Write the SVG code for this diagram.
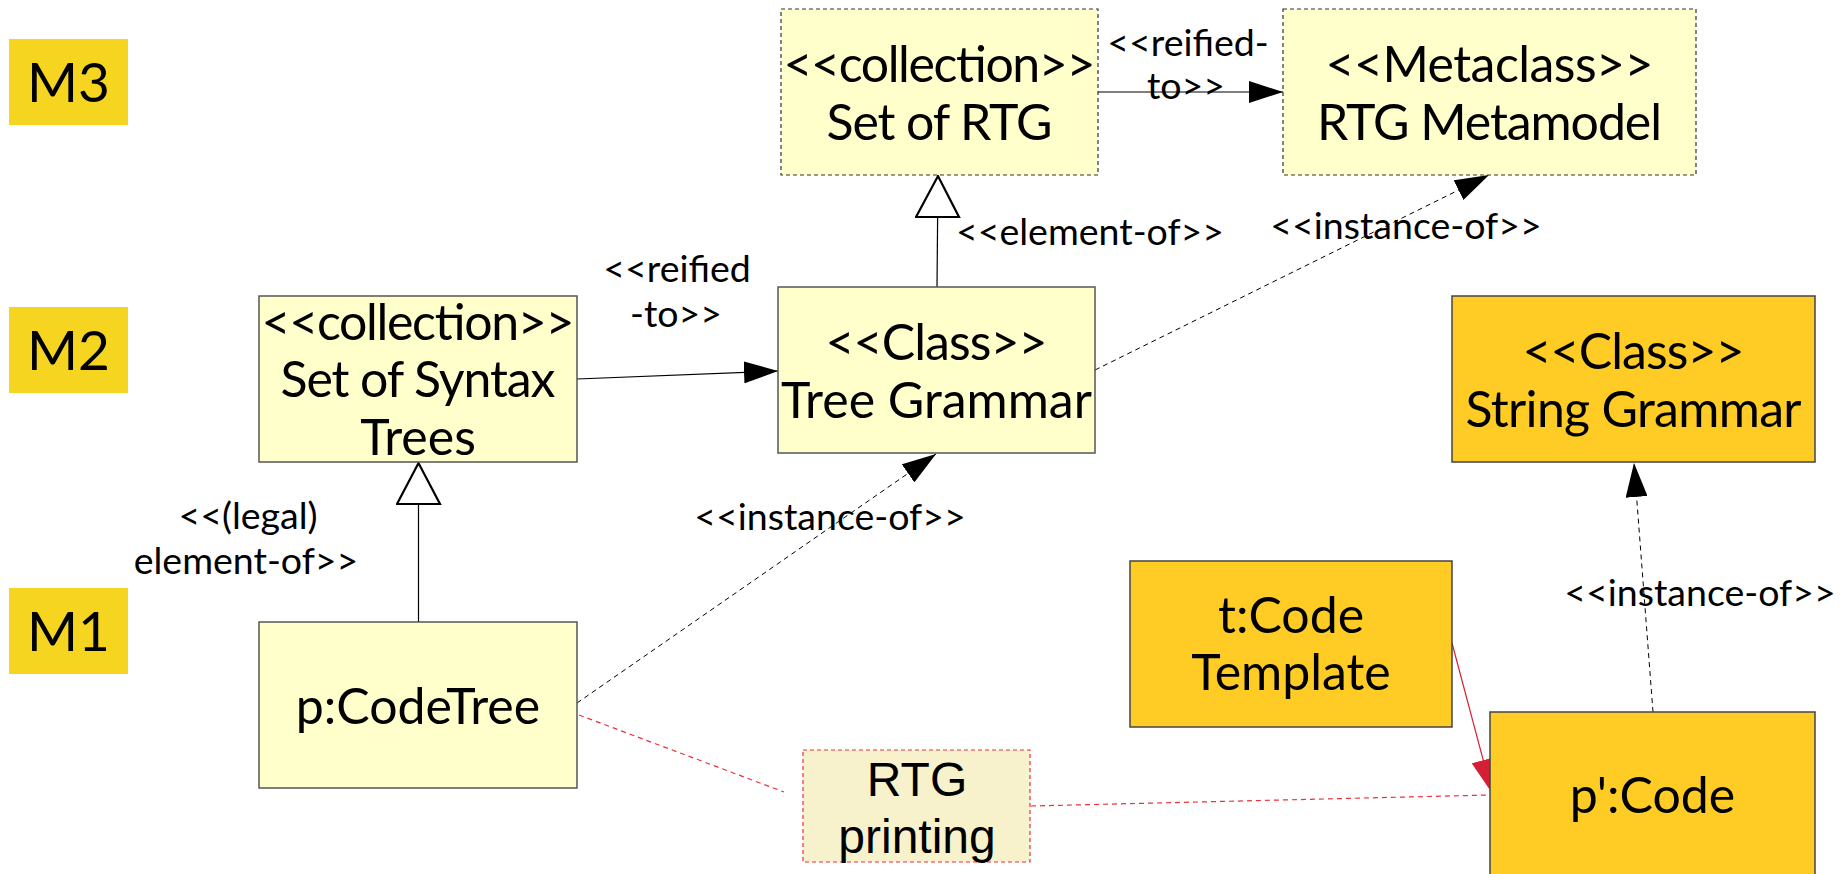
<svg xmlns="http://www.w3.org/2000/svg" width="1845" height="874" viewBox="0 0 1845 874">
<defs>
<style>
.lvl{fill:#f6d520}
.lvlt{font-family:Lato,"Noto Sans",sans-serif;font-size:55px;fill:#000;text-anchor:middle}
.box{fill:#ffffcc;stroke:#555;stroke-width:1.5}
.dbox{fill:#ffffcc;stroke:#333;stroke-width:1.2;stroke-dasharray:4 3}
.obox{fill:#ffcc26;stroke:#444;stroke-width:1.5}
.bt{font-family:Lato,"Noto Sans",sans-serif;font-size:50px;fill:#000;text-anchor:middle}
.lt{font-family:Lato,"Noto Sans",sans-serif;font-size:37.5px;fill:#000;text-anchor:middle}
.solid{fill:none;stroke:#000;stroke-width:1.2}
.dash{fill:none;stroke:#000;stroke-width:1;stroke-dasharray:5 4}
.rdash{fill:none;stroke:#e8323c;stroke-width:1.2;stroke-dasharray:5 4}
.rsolid{fill:none;stroke:#d42035;stroke-width:1.2}
</style>
<marker id="fa" markerUnits="userSpaceOnUse" markerWidth="35" markerHeight="22" refX="34" refY="11" orient="auto"><path d="M0,0 L34,11 L0,22 z" fill="#000"/></marker>
<marker id="ra" markerUnits="userSpaceOnUse" markerWidth="35" markerHeight="24" refX="34" refY="12" orient="auto"><path d="M0,0 L34,12 L0,24 z" fill="#d42035"/></marker>
<marker id="ha" markerUnits="userSpaceOnUse" markerWidth="46" markerHeight="48" refX="42" refY="23" orient="auto"><path d="M1,1.5 L42,23 L1,44.5 z" fill="#fff" stroke="#000" stroke-width="2.2"/></marker>
</defs>

<g id="levels">
<g id="M3"><rect class="lvl" x="9" y="39" width="119" height="86"/><text class="lvlt" x="68.5" y="102">M3</text></g>
<g id="M2"><rect class="lvl" x="9" y="307" width="119" height="86"/><text class="lvlt" x="68.5" y="370">M2</text></g>
<g id="M1"><rect class="lvl" x="9" y="588" width="119" height="86"/><text class="lvlt" x="68.5" y="651">M1</text></g>
</g>

<g id="connectors">
<line class="solid" x1="1098" y1="92" x2="1283" y2="92" marker-end="url(#fa)"/>
<line class="solid" x1="937" y1="287" x2="938" y2="176" marker-end="url(#ha)"/>
<line class="dash" x1="1095" y1="370" x2="1489" y2="175" marker-end="url(#fa)"/>
<line class="solid" x1="577" y1="379" x2="778" y2="371" marker-end="url(#fa)"/>
<line class="solid" x1="418.5" y1="622" x2="418.5" y2="463" marker-end="url(#ha)"/>
<line class="dash" x1="577" y1="703" x2="936" y2="454" marker-end="url(#fa)"/>
<line class="dash" x1="1653" y1="712" x2="1634" y2="463" marker-end="url(#fa)"/>
<line class="rsolid" x1="1452" y1="643" x2="1492" y2="793" marker-end="url(#ra)"/>
<line class="rdash" x1="579" y1="715" x2="784" y2="792"/>
<line class="rdash" x1="1031" y1="806" x2="1490" y2="795"/>
<g id="labels">
<text class="lt" x="1188" y="56">&lt;&lt;reified-</text>
<text class="lt" x="1186" y="99">to&gt;&gt;</text>
<text class="lt" x="1090" y="245">&lt;&lt;element-of&gt;&gt;</text>
<text class="lt" x="1406" y="239">&lt;&lt;instance-of&gt;&gt;</text>
<text class="lt" x="677" y="282">&lt;&lt;reified</text>
<text class="lt" x="676" y="327">-to&gt;&gt;</text>
<text class="lt" x="248" y="529">&lt;&lt;(legal)</text>
<text class="lt" x="246" y="574">element-of&gt;&gt;</text>
<text class="lt" x="830" y="530">&lt;&lt;instance-of&gt;&gt;</text>
<text class="lt" x="1700" y="606">&lt;&lt;instance-of&gt;&gt;</text>
</g>
</g>

<g id="setOfRTG"><rect class="dbox" x="781" y="9" width="317" height="166"/><text class="bt" x="939.5" y="82" textLength="312" lengthAdjust="spacing">&lt;&lt;collection&gt;&gt;</text><text class="bt" x="939.5" y="140" textLength="226" lengthAdjust="spacing">Set of RTG</text></g>
<g id="rtgMetamodel"><rect class="dbox" x="1283" y="9" width="413" height="166"/><text class="bt" x="1489.5" y="82" textLength="328" lengthAdjust="spacing">&lt;&lt;Metaclass&gt;&gt;</text><text class="bt" x="1489.5" y="140" textLength="345" lengthAdjust="spacing">RTG Metamodel</text></g>
<g id="setOfSyntaxTrees"><rect class="box" x="259" y="296" width="318" height="166"/><text class="bt" x="418" y="340" textLength="313" lengthAdjust="spacing">&lt;&lt;collection&gt;&gt;</text><text class="bt" x="418" y="397" textLength="275" lengthAdjust="spacing">Set of Syntax</text><text class="bt" x="418" y="455">Trees</text></g>
<g id="treeGrammar"><rect class="box" x="778" y="287" width="317" height="166"/><text class="bt" x="936.5" y="360" textLength="222" lengthAdjust="spacing">&lt;&lt;Class&gt;&gt;</text><text class="bt" x="936.5" y="418">Tree Grammar</text></g>
<g id="stringGrammar"><rect class="obox" x="1452" y="296" width="363" height="166"/><text class="bt" x="1633.5" y="369" textLength="222" lengthAdjust="spacing">&lt;&lt;Class&gt;&gt;</text><text class="bt" x="1633.5" y="427" textLength="336" lengthAdjust="spacing">String Grammar</text></g>
<g id="pCodeTree"><rect class="box" x="259" y="622" width="318" height="166"/><text class="bt" x="418" y="724">p:CodeTree</text></g>
<g id="tCodeTemplate"><rect class="obox" x="1130" y="561" width="322" height="166"/><text class="bt" x="1291" y="633">t:Code</text><text class="bt" x="1291" y="690">Template</text></g>
<g id="pPrimeCode"><rect class="obox" x="1490" y="712" width="325" height="170"/><text class="bt" x="1652.5" y="813">p':Code</text></g>
<g id="rtgPrinting"><rect x="803" y="750" width="227" height="112" fill="#f7f2cb" stroke="#e8323c" stroke-width="1.2" stroke-dasharray="4 3"/><text font-family="'Liberation Sans',Arial,sans-serif" font-size="48" text-anchor="middle" x="917" y="796">RTG</text><text font-family="'Liberation Sans',Arial,sans-serif" font-size="48" text-anchor="middle" x="917" y="853">printing</text></g>
</svg>
